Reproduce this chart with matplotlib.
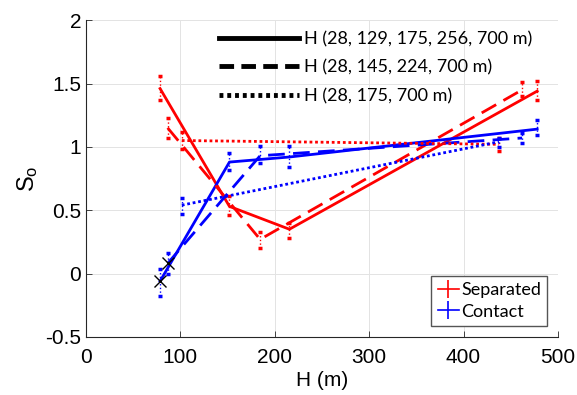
import matplotlib.pyplot as plt
from matplotlib.lines import Line2D

# layer mid-heights (m) for the three layerings
x_solid = [78.5, 152, 215.5, 478]
x_dash = [86.5, 184.5, 462]
x_dot = [101.5, 437.5]

# Separated: value, lower, upper
sep_solid = [1.46, 0.53, 0.35, 1.44]
sep_solid_lo = [1.37, 0.46, 0.28, 1.37]
sep_solid_hi = [1.56, 0.61, 0.40, 1.52]
sep_dash = [1.15, 0.27, 1.45]
sep_dash_lo = [1.07, 0.20, 1.40]
sep_dash_hi = [1.23, 0.33, 1.51]
sep_dot = [1.05, 1.02]
sep_dot_lo = [0.98, 0.97]
sep_dot_hi = [1.12, 1.07]

# Contact: value, lower, upper
con_solid = [-0.06, 0.88, 0.92, 1.14]
con_solid_lo = [-0.18, 0.82, 0.84, 1.09]
con_solid_hi = [0.04, 0.95, 1.01, 1.21]
con_dash = [0.08, 0.93, 1.07]
con_dash_lo = [0.00, 0.87, 1.03]
con_dash_hi = [0.16, 1.01, 1.11]
con_dot = [0.54, 1.04]
con_dot_lo = [0.47, 1.00]
con_dot_hi = [0.60, 1.07]

legend_heights = ["H (28, 129, 175, 256, 700 m)", "H (28, 145, 224, 700 m)", "H (28, 175, 700 m)"]

plt.rcParams['font.family'] = ['Liberation Sans', 'DejaVu Sans']
plt.rcParams['mathtext.default'] = 'regular'

fig = plt.figure(figsize=(5.77, 3.95), dpi=100)
ax = fig.add_axes([0.149, 0.147, 0.818, 0.802])

styles = ['-', (0, (6, 3)), (0, (1, 1))]
xs = [x_solid, x_dash, x_dot]
seps = [(sep_solid, sep_solid_lo, sep_solid_hi), (sep_dash, sep_dash_lo, sep_dash_hi), (sep_dot, sep_dot_lo, sep_dot_hi)]
cons = [(con_solid, con_solid_lo, con_solid_hi), (con_dash, con_dash_lo, con_dash_hi), (con_dot, con_dot_lo, con_dot_hi)]


def draw(x, vals, color, ls):
    y, lo, hi = vals
    yerr = [[a - b for a, b in zip(y, lo)], [b - a for a, b in zip(y, hi)]]
    ax.plot(x, y, color=color, ls=ls, lw=2, zorder=3)
    eb = ax.errorbar(x, y, yerr=yerr, fmt='none', ecolor=color, elinewidth=1,
                     capsize=1.5, capthick=2.5, zorder=2)
    eb[2][0].set_linestyle(':')


for x, s, c, ls in zip(xs, seps, cons, styles):
    draw(x, s, 'red', ls)
    draw(x, c, 'blue', ls)

# contact points marked with a cross
ax.plot([x_solid[0], x_dash[0]], [con_solid[0], con_dash[0]], 'x', color='k',
        ms=8, mew=1, zorder=4)

ax.set_xlim(0, 500)
ax.set_ylim(-0.5, 2)
ax.set_xticks([0, 100, 200, 300, 400, 500])
ax.set_yticks([-0.5, 0, 0.5, 1, 1.5, 2])
ax.set_yticklabels(['-0.5', '0', '0.5', '1', '1.5', '2'])
ax.grid(True, color='#e3e3e3', lw=0.7)
ax.set_axisbelow(True)
for side in ['top', 'right']:
    ax.spines[side].set_visible(False)
for side in ['left', 'bottom']:
    ax.spines[side].set_color('#262626')
    ax.spines[side].set_linewidth(0.8)
ax.tick_params(direction='in', length=4, width=0.6, labelsize=15, colors='#262626', labelcolor='k')
ax.tick_params(axis='x', pad=8)
ax.set_xlabel('H (m)', fontsize=15, labelpad=3)
ax.set_ylabel('S$_o$', fontsize=17, labelpad=4)

style_handles = [Line2D([], [], color='k', ls=ls, lw=3.5) for ls in ['-', (0, (3, 1.5)), (0, (0.8, 0.8))]]
leg1 = ax.legend(style_handles, legend_heights, loc='upper left', bbox_to_anchor=(0.352, 0.962),
                 bbox_transform=fig.transFigure, frameon=False, handlelength=4.4, handletextpad=0.3,
                 labelspacing=0.68, prop={'family': 'Lato', 'size': 13})
ax.add_artist(leg1)

sep_h = ax.errorbar([], [], yerr=[], color='red', lw=1.2, capsize=3)
con_h = ax.errorbar([], [], yerr=[], color='blue', lw=1.2, capsize=3)
ax.legend([sep_h, con_h], ['Separated', 'Contact'], loc='lower right', bbox_to_anchor=(0.964, 0.152),
          bbox_transform=fig.transFigure, handlelength=1.2, handletextpad=0.1, borderpad=0.35,
          labelspacing=0.3, fancybox=False, edgecolor='#555555', framealpha=1,
          prop={'family': 'Lato', 'size': 13})

fig.savefig('out.png', dpi=100)
